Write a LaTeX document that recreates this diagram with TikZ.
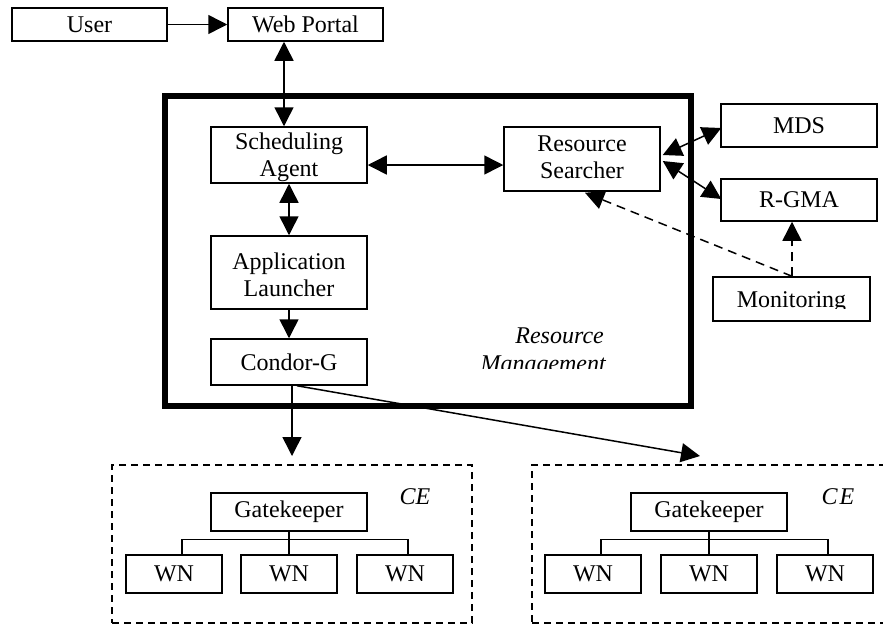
\documentclass[tikz,border=0pt]{standalone}
\usepackage{fontspec}
\setmainfont{Liberation Serif}
\usetikzlibrary{arrows.meta,calc}
\begin{document}
\begin{tikzpicture}[x=1pt,y=-1pt,
  txt/.style={font=\fontsize{24}{27}\selectfont},
  itxt/.style={font=\fontsize{24}{27}\selectfont\itshape},
  box/.style={draw,line width=1.5pt,inner sep=0pt,align=center,txt,minimum width=156pt},
  wnbox/.style={box,minimum width=96pt,minimum height=38pt},
  cebox/.style={draw,line width=1.5pt,dash pattern=on 7pt off 5pt,inner sep=0pt},
  conn/.style={line width=1.5pt},
  dconn/.style={line width=1.5pt,dash pattern=on 9pt off 6pt},
  >={Triangle[length=19pt,width=19pt]}]
\useasboundingbox (0,0) rectangle (883,625);

% resource management frame
\node[draw,line width=5.5pt,minimum width=526pt,minimum height=310pt,inner sep=0pt] (rm) at (428,251) {};
\begin{scope}
  \clip (440,318) rectangle (650,368);
  \node[itxt,anchor=base east,inner sep=0pt] (rmA) at (604,343) {Resource};
  \node[itxt,anchor=base east,inner sep=0pt] (rmB) at (606,371) {Management};
\end{scope}

% components
\node[box,minimum width=155pt,minimum height=33pt] (user) at (89.5,24.5) {User};
\node[box,minimum width=155pt,minimum height=33pt] (wp) at (305.5,24.5) {Web Portal};
\node[box,minimum height=56pt] (sa) at (289,155) {};
\node[txt,align=center,inner sep=0pt] (saT) at (289,157) {Scheduling\\Agent};
\node[box,minimum height=73pt] (al) at (289,272.5) {};
\node[txt,align=center,inner sep=0pt] (alT) at (289,275) {Application\\Launcher};
\node[box,minimum height=46pt] (cg) at (289,362) {Condor-G};
\node[box,minimum height=64pt] (rs) at (582,159) {};
\node[txt,align=center,inner sep=0pt] (rsT) at (582,157.5) {Resource\\Searcher};
\node[box,minimum height=43pt] (mds) at (799,125.5) {MDS};
\node[box,minimum height=42pt] (rgma) at (799,200) {R-GMA};
\node[box,minimum width=157pt,minimum height=44pt] (mon) at (791.5,299) {};
\begin{scope}
  \clip (715,280) rectangle (868,308.5);
  \node[txt,anchor=base,inner sep=0pt] (monT) at (791.5,307.5) {Monitoring};
\end{scope}

% helper positions
\coordinate (xwp) at (284,0);
\coordinate (ysr) at (0,165);
\coordinate (xmon) at (792,0);
\coordinate (ceAin) at (292,456);
\coordinate (ceBin) at (700,456);

% connectors
\draw[conn,->] (user) -- (wp);
\draw[conn,<->] (wp.south -| xwp) -- (sa.north -| xwp);
\draw[conn,<->] (sa.east |- ysr) -- (rs.west |- ysr);
\draw[conn,<->] (sa.south) -- (al.north);
\draw[conn,->] (al.south) -- (cg.north);
\draw[conn,<->] ($(rs.east)+(2,-4)$) -- ($(mds.west)+(1,2.5)$);
\draw[conn,<->] ($(rs.east)+(2,2)$) -- ($(rgma.west)+(1,-1)$);
\draw[dconn,->] (mon.north -| xmon) -- (rgma.south -| xmon);
\draw[dconn,->] (mon.north -| xmon) -- ($(rs.south)+(3,1)$);
\draw[conn,->] (cg.south -| ceAin) -- (ceAin);
\draw[conn,->] ($(cg.south)+(8,0)$) -- (ceBin);

% computing elements
\node[cebox,minimum width=360pt,minimum height=158pt] (ceA) at (292,544) {};
\node[cebox,minimum width=368pt,minimum height=158pt] (ceB) at (716,544) {};
\node[itxt,inner sep=0pt] (ceAl) at (415,497) {CE};
\node[itxt,inner sep=0pt] (ceBl) at (838,497) {C\kern2pt E};

\node[box,minimum height=38pt] (gkA) at (289,512) {Gatekeeper};
\node[wnbox] (wnA1) at (174,574) {WN};
\node[wnbox] (wnA2) at (289,574) {WN};
\node[wnbox] (wnA3) at (405,574) {WN};
\draw[conn] (gkA.south) -- (wnA2.north);
\draw[conn] ($(wnA1.north)+(8,0)$) |- ($(wnA3.north)+(3,-15)$) -- ($(wnA3.north)+(3,0)$);

\node[box,minimum height=38pt] (gkB) at (709,512) {Gatekeeper};
\node[wnbox] (wnB1) at (593,574) {WN};
\node[wnbox] (wnB2) at (709,574) {WN};
\node[wnbox] (wnB3) at (825,574) {WN};
\draw[conn] (gkB.south) -- (wnB2.north);
\draw[conn] ($(wnB1.north)+(8,0)$) |- ($(wnB3.north)+(3,-15)$) -- ($(wnB3.north)+(3,0)$);
\end{tikzpicture}
\end{document}
